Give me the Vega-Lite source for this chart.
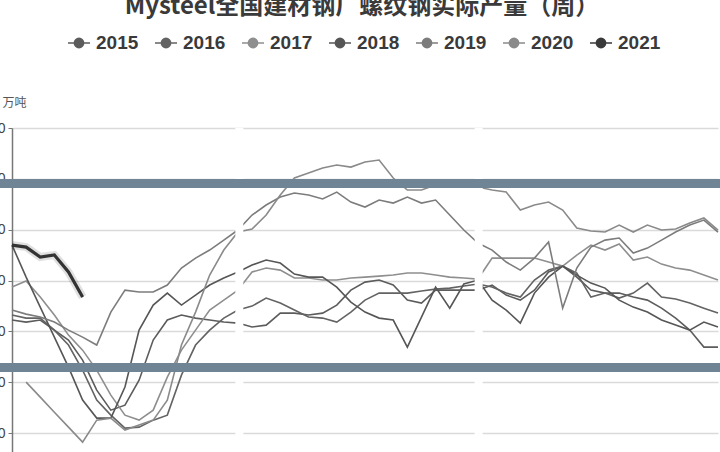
{
  "$schema": "https://vega.github.io/schema/vega-lite/v6.json",
  "autosize": {"type": "none"},
  "width": 706,
  "height": 356,
  "padding": {"left": 12, "top": 128, "right": 2, "bottom": 0},
  "background": "white",
  "config": {"view": {"stroke": null}},
  "title": {
    "text": "Mysteel全国建材钢厂螺纹钢实际产量（周）",
    "font": "Noto Sans CJK SC",
    "fontSize": 24,
    "fontWeight": "bold",
    "color": "#3a3a3a",
    "anchor": "middle",
    "frame": "group",
    "offset": 12,
    "dx": -3
  },
  "datasets": {
    "weekly": [
      {"week": 1, "2015": 261.2, "2016": 266.1, "2017": 293.6, "2018": 334.9, "2019": 271.0, "2020": null, "2021": 334.9},
      {"week": 2, "2015": 259.2, "2016": 263.1, "2017": 299.5, "2018": 303.4, "2019": 267.0, "2020": 200.2, "2021": 332.9},
      {"week": 3, "2015": 261.2, "2016": 263.1, "2017": 283.8, "2018": 273.9, "2019": 264.1, "2020": 185.4, "2021": 323.1},
      {"week": 4, "2015": 251.3, "2016": 251.3, "2017": 266.1, "2018": 244.4, "2019": 259.2, "2020": 170.6, "2021": 325.1},
      {"week": 5, "2015": 241.5, "2016": 236.6, "2017": 246.4, "2018": 214.9, "2019": 251.3, "2020": 155.9, "2021": 308.4},
      {"week": 6, "2015": 221.8, "2016": 212.0, "2017": 231.6, "2018": 182.5, "2019": 244.4, "2020": 141.2, "2021": 283.8},
      {"week": 7, "2015": 192.3, "2016": 182.5, "2017": 212.0, "2018": 164.8, "2019": 236.6, "2020": 162.8, "2021": null},
      {"week": 8, "2015": 172.6, "2016": 167.7, "2017": 187.4, "2018": 164.8, "2019": 269.0, "2020": 164.8, "2021": null},
      {"week": 9, "2015": 177.5, "2016": 154.9, "2017": 167.7, "2018": 195.3, "2019": 290.6, "2020": 153.0, "2021": null},
      {"week": 10, "2015": 202.1, "2016": 155.9, "2017": 162.8, "2018": 251.3, "2019": 288.7, "2020": 157.9, "2021": null},
      {"week": 11, "2015": 241.5, "2016": 162.8, "2017": 172.6, "2018": 275.9, "2019": 288.7, "2020": 162.8, "2021": null},
      {"week": 12, "2015": 261.2, "2016": 167.7, "2017": 205.1, "2018": 287.7, "2019": 295.6, "2020": 182.5, "2021": null},
      {"week": 13, "2015": 266.1, "2016": 207.0, "2017": 231.6, "2018": 275.9, "2019": 312.3, "2020": 236.6, "2021": null},
      {"week": 14, "2015": 263.1, "2016": 236.6, "2017": 251.3, "2018": 285.7, "2019": 322.1, "2020": 269.0, "2021": null},
      {"week": 15, "2015": 261.2, "2016": 251.3, "2017": 271.0, "2018": 295.6, "2019": 330.0, "2020": 305.4, "2021": null},
      {"week": 16, "2015": 259.2, "2016": 263.1, "2017": 280.8, "2018": 302.5, "2019": 339.8, "2020": 330.0, "2021": null},
      {"week": 17, "2015": 258.2, "2016": 271.0, "2017": 290.6, "2018": 308.4, "2019": 349.7, "2020": 347.7, "2021": null},
      {"week": 18, "2015": 254.3, "2016": 274.9, "2017": 308.4, "2018": 315.2, "2019": 364.4, "2020": 350.7, "2021": null},
      {"week": 19, "2015": 256.2, "2016": 282.8, "2017": 312.3, "2018": 320.2, "2019": 374.3, "2020": 364.4, "2021": null},
      {"week": 20, "2015": 268.0, "2016": 277.9, "2017": 310.3, "2018": 317.2, "2019": 382.1, "2020": 384.1, "2021": null},
      {"week": 21, "2015": 268.0, "2016": 271.0, "2017": 302.5, "2018": 306.4, "2019": 386.1, "2020": 400.8, "2021": null},
      {"week": 22, "2015": 266.1, "2016": 264.1, "2017": 302.5, "2018": 303.4, "2019": 384.1, "2020": 405.7, "2021": null},
      {"week": 23, "2015": 268.0, "2016": 263.1, "2017": 300.5, "2018": 303.4, "2019": 380.2, "2020": 410.7, "2021": null},
      {"week": 24, "2015": 275.9, "2016": 259.2, "2017": 300.5, "2018": 293.6, "2019": 387.0, "2020": 413.6, "2021": null},
      {"week": 25, "2015": 290.6, "2016": 269.0, "2017": 302.5, "2018": 278.9, "2019": 377.2, "2020": 411.6, "2021": null},
      {"week": 26, "2015": 298.5, "2016": 280.8, "2017": 303.4, "2018": 269.0, "2019": 372.3, "2020": 416.6, "2021": null},
      {"week": 27, "2015": 300.5, "2016": 287.7, "2017": 304.4, "2018": 263.1, "2019": 379.2, "2020": 418.5, "2021": null},
      {"week": 28, "2015": 295.6, "2016": 287.7, "2017": 305.4, "2018": 261.2, "2019": 376.2, "2020": 400.8, "2021": null},
      {"week": 29, "2015": 280.8, "2016": 287.7, "2017": 307.4, "2018": 234.6, "2019": 382.1, "2020": 389.0, "2021": null},
      {"week": 30, "2015": 277.9, "2016": 289.7, "2017": 307.4, "2018": 264.1, "2019": 376.2, "2020": 389.0, "2021": null},
      {"week": 31, "2015": 290.6, "2016": 291.6, "2017": 305.4, "2018": 293.6, "2019": 379.2, "2020": 393.9, "2021": null},
      {"week": 32, "2015": 290.6, "2016": 292.6, "2017": 303.4, "2018": 272.9, "2019": 364.4, "2020": 395.9, "2021": null},
      {"week": 33, "2015": 290.6, "2016": 294.6, "2017": 302.5, "2018": 296.6, "2019": 349.7, "2020": 394.9, "2021": null},
      {"week": 34, "2015": 290.6, "2016": 296.6, "2017": 301.5, "2018": 300.5, "2019": 336.9, "2020": 392.0, "2021": null},
      {"week": 35, "2015": 295.6, "2016": 293.6, "2017": 322.1, "2018": 280.8, "2019": 330.0, "2020": 389.0, "2021": null},
      {"week": 36, "2015": 285.7, "2016": 287.7, "2017": 322.1, "2018": 271.0, "2019": 318.2, "2020": 387.0, "2021": null},
      {"week": 37, "2015": 280.8, "2016": 283.8, "2017": 322.1, "2018": 258.2, "2019": 310.3, "2020": 369.3, "2021": null},
      {"week": 38, "2015": 290.6, "2016": 300.5, "2017": 322.1, "2018": 287.7, "2019": 322.1, "2020": 374.3, "2021": null},
      {"week": 39, "2015": 308.4, "2016": 310.3, "2017": 318.2, "2018": 303.4, "2019": 337.9, "2020": 377.2, "2021": null},
      {"week": 40, "2015": 314.3, "2016": 314.3, "2017": 314.3, "2018": 314.3, "2019": 272.9, "2020": 369.3, "2021": null},
      {"week": 41, "2015": 303.4, "2016": 307.4, "2017": 325.1, "2018": 305.4, "2019": 312.3, "2020": 351.6, "2021": null},
      {"week": 42, "2015": 290.6, "2016": 283.8, "2017": 334.9, "2018": 297.5, "2019": 332.9, "2020": 348.7, "2021": null},
      {"week": 43, "2015": 287.7, "2016": 287.7, "2017": 330.0, "2018": 292.6, "2019": 339.8, "2020": 347.7, "2021": null},
      {"week": 44, "2015": 287.7, "2016": 282.8, "2017": 335.9, "2018": 280.8, "2019": 341.8, "2020": 354.6, "2021": null},
      {"week": 45, "2015": 283.8, "2016": 287.7, "2017": 320.2, "2018": 273.9, "2019": 327.1, "2020": 347.7, "2021": null},
      {"week": 46, "2015": 280.8, "2016": 297.5, "2017": 323.1, "2018": 269.0, "2019": 331.9, "2020": 354.6, "2021": null},
      {"week": 47, "2015": 272.9, "2016": 283.8, "2017": 316.2, "2018": 261.2, "2019": 339.8, "2020": 349.7, "2021": null},
      {"week": 48, "2015": 263.1, "2016": 281.8, "2017": 312.3, "2018": 256.2, "2019": 347.7, "2020": 350.7, "2021": null},
      {"week": 49, "2015": 251.3, "2016": 277.9, "2017": 310.3, "2018": 251.3, "2019": 354.6, "2020": 356.6, "2021": null},
      {"week": 50, "2015": 234.6, "2016": 272.9, "2017": 305.4, "2018": 259.2, "2019": 359.5, "2020": 361.5, "2021": null},
      {"week": 51, "2015": 234.6, "2016": 268.0, "2017": 300.5, "2018": 254.3, "2019": 347.7, "2020": 349.7, "2021": null}
    ],
    "gaps": [{"gx": 17.1}, {"gx": 34.05}],
    "bands": [
      {"bx1": 0.1, "bx2": 51.6, "by1": 399.8, "by2": 391.0},
      {"bx1": 0.1, "bx2": 51.6, "by1": 218.9, "by2": 210.0}
    ]
  },
  "layer": [
    {
      "data": {"name": "weekly"},
      "transform": [{"fold": ["2015", "2016", "2017", "2018", "2019", "2020", "2021"], "as": ["year", "v"]}],
      "mark": {"type": "line", "strokeWidth": 1.6, "interpolate": "linear"},
      "encoding": {
        "x": {"field": "week", "type": "quantitative", "scale": {"domain": [1, 51], "nice": false, "zero": false}, "axis": null},
        "y": {
          "field": "v", "type": "quantitative",
          "scale": {"domain": [100, 450], "nice": false, "zero": false},
          "axis": {
            "values": [150, 200, 250, 300, 350, 400, 450],
            "title": "万吨",
            "titleAngle": 0,
            "titleAlign": "left",
            "titleBaseline": "alphabetic",
            "titleX": -10,
            "titleY": -22,
            "titleFont": "Noto Sans CJK SC",
            "titleFontSize": 12,
            "titleFontWeight": "normal",
            "titleColor": "#555",
            "labelFontSize": 14,
            "labelColor": "#444",
            "labelPadding": 3,
            "tickSize": 4,
            "tickColor": "#777",
            "domainColor": "#777",
            "domainWidth": 1.5,
            "gridColor": "#dadada",
            "gridWidth": 1.6
          }
        },
        "color": {
          "field": "year", "type": "nominal",
          "scale": {
            "domain": ["2015", "2016", "2017", "2018", "2019", "2020", "2021"],
            "range": ["#5c5c5c", "#636363", "#8e8e8e", "#565656", "#7c7c7c", "#8a8a8a", "#3a3a3a"]
          },
          "legend": {
            "title": null,
            "orient": "none",
            "direction": "horizontal",
            "columns": 7,
            "legendX": 55,
            "legendY": -97,
            "symbolType": "M-1,0L-0.42,0M0.42,0L1,0M-0.42,0A0.42,0.42,0,1,1,0.42,0A0.42,0.42,0,1,1,-0.42,0Z",
            "symbolSize": 484,
            "symbolStrokeWidth": 1.6,
            "labelFont": "Liberation Sans",
            "labelFontSize": 19,
            "labelFontWeight": "bold",
            "labelColor": "#3a3a3a",
            "labelOffset": 5,
            "columnPadding": 12,
            "encode": {"symbols": {"update": {"fill": {"scale": "color", "field": "value"}, "fillOpacity": {"value": 1}}}}
          }
        }
      }
    },
    {
      "data": {"name": "weekly"},
      "transform": [{"fold": ["2021"], "as": ["year", "v"]}],
      "mark": {"type": "line", "strokeWidth": 8, "color": "#000000", "opacity": 0.12},
      "encoding": {"x": {"field": "week", "type": "quantitative"}, "y": {"field": "v", "type": "quantitative"}}
    },
    {
      "data": {"name": "weekly"},
      "transform": [{"fold": ["2021"], "as": ["year", "v"]}],
      "mark": {"type": "line", "strokeWidth": 3.2, "color": "#333333"},
      "encoding": {"x": {"field": "week", "type": "quantitative"}, "y": {"field": "v", "type": "quantitative"}}
    },
    {
      "data": {"name": "gaps"},
      "mark": {"type": "rule", "color": "white", "strokeWidth": 8},
      "encoding": {"x": {"field": "gx", "type": "quantitative"}}
    },
    {
      "data": {"name": "bands"},
      "mark": {"type": "rect", "color": "#6f8494", "opacity": 1},
      "encoding": {
        "x": {"field": "bx1", "type": "quantitative"},
        "x2": {"field": "bx2"},
        "y": {"field": "by1", "type": "quantitative"},
        "y2": {"field": "by2"}
      }
    }
  ]
}
